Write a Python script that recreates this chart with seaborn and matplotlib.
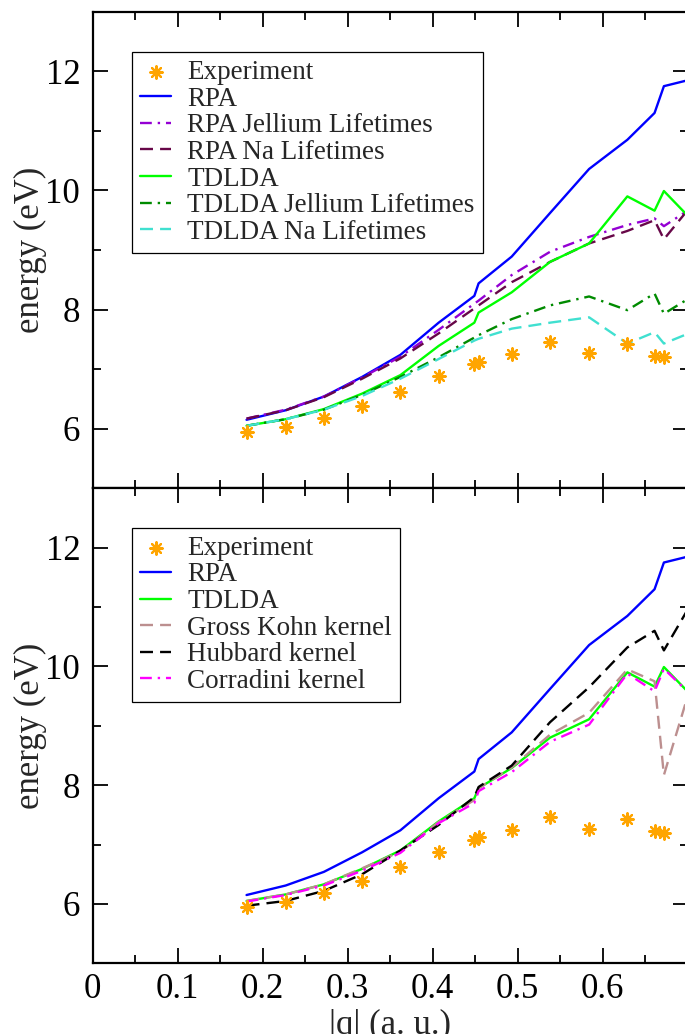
import matplotlib
matplotlib.use("Agg")
import matplotlib.pyplot as plt
from matplotlib.ticker import MultipleLocator
import seaborn as sns

# momentum transfer |q| (a.u.) of the computed spectra
q_model = [0.181, 0.227, 0.272, 0.317, 0.362, 0.407, 0.449, 0.454, 0.493,
           0.538, 0.584, 0.629, 0.661, 0.672, 0.720]
# measured plasmon energies (eV)
q_exp = [0.181, 0.227, 0.272, 0.317, 0.362, 0.407, 0.449, 0.454, 0.493,
         0.538, 0.584, 0.629, 0.661, 0.672]
e_exp = [5.94, 6.03, 6.18, 6.38, 6.62, 6.88, 7.08, 7.12, 7.25,
         7.46, 7.27, 7.43, 7.22, 7.20]

e_rpa = [6.15, 6.31, 6.54, 6.87, 7.24, 7.78, 8.23, 8.44, 8.89,
         9.62, 10.36, 10.85, 11.30, 11.75, 11.92]
e_rpa_jellium = [6.17, 6.32, 6.54, 6.86, 7.21, 7.66, 8.10, 8.15, 8.58,
                 8.97, 9.22, 9.42, 9.53, 9.40, 9.85]
e_rpa_na = [6.17, 6.31, 6.53, 6.84, 7.18, 7.60, 8.02, 8.07, 8.46,
            8.80, 9.11, 9.32, 9.50, 9.18, 10.02]
e_tdlda = [6.05, 6.16, 6.33, 6.59, 6.90, 7.39, 7.78, 7.95, 8.29,
           8.80, 9.11, 9.90, 9.66, 9.99, 9.28]
e_tdlda_jellium = [6.05, 6.16, 6.32, 6.57, 6.87, 7.20, 7.53, 7.57, 7.84,
                   8.07, 8.22, 7.99, 8.27, 7.93, 8.35]
e_tdlda_na = [6.05, 6.16, 6.32, 6.55, 6.84, 7.17, 7.48, 7.51, 7.68,
              7.78, 7.87, 7.43, 7.62, 7.43, 7.71]
e_gross_kohn = [6.05, 6.16, 6.33, 6.60, 6.88, 7.38, 7.75, 7.95, 8.30,
                8.85, 9.22, 9.95, 9.75, 8.17, 10.45]
e_hubbard = [5.97, 6.05, 6.22, 6.50, 6.90, 7.33, 7.80, 7.97, 8.33,
             9.06, 9.65, 10.32, 10.60, 10.27, 11.45]
e_corradini = [6.04, 6.15, 6.31, 6.56, 6.86, 7.36, 7.70, 7.90, 8.22,
               8.73, 9.02, 9.88, 9.58, 9.96, 9.30]

x_ticks = [0, 0.1, 0.2, 0.3, 0.4, 0.5, 0.6]
x_tick_labels = ["0", "0.1", "0.2", "0.3", "0.4", "0.5", "0.6"]
y_ticks = [6, 8, 10, 12]

sns.set_theme(style="ticks")
plt.rcParams["font.family"] = ["Liberation Serif", "DejaVu Serif"]

DASH = (0, (5.5, 3.0))
DASHDOT = (0, (5.0, 2.5, 1.0, 2.5))
LW = 1.7

W, H = 685, 1034
fig = plt.figure(figsize=(W / 100, H / 100), dpi=100)
left, right = 92.7, 687.7
ax_top = fig.add_axes([left / W, 1 - 488.3 / H, (right - left) / W, (488.3 - 11.7) / H])
ax_bot = fig.add_axes([left / W, 1 - 963.3 / H, (right - left) / W, (963.3 - 488.3) / H])


def experiment(ax):
    sns.scatterplot(x=q_exp, y=e_exp, ax=ax, marker=(8, 2, 0), s=80,
                    color="#FFA500", edgecolor="#FFA500", linewidth=1.6,
                    label="Experiment", zorder=10)


def curve(ax, values, color, style, label):
    sns.lineplot(x=q_model, y=values, ax=ax, color=color, linestyle=style,
                 linewidth=LW, label=label, sort=False, estimator=None)


# upper panel: lifetime corrections
experiment(ax_top)
curve(ax_top, e_rpa, "#0000FF", "-", "RPA")
curve(ax_top, e_rpa_jellium, "#9400D3", DASHDOT, "RPA Jellium Lifetimes")
curve(ax_top, e_rpa_na, "#670748", DASH, "RPA Na Lifetimes")
curve(ax_top, e_tdlda, "#00FF00", "-", "TDLDA")
curve(ax_top, e_tdlda_jellium, "#008B00", DASHDOT, "TDLDA Jellium Lifetimes")
curve(ax_top, e_tdlda_na, "#40E0D0", DASH, "TDLDA Na Lifetimes")

# lower panel: exchange-correlation kernels
experiment(ax_bot)
curve(ax_bot, e_rpa, "#0000FF", "-", "RPA")
curve(ax_bot, e_tdlda, "#00FF00", "-", "TDLDA")
curve(ax_bot, e_gross_kohn, "#BC8F8F", DASH, "Gross Kohn kernel")
curve(ax_bot, e_hubbard, "#000000", DASH, "Hubbard kernel")
curve(ax_bot, e_corradini, "#FF00FF", DASHDOT, "Corradini kernel")

for ax, anchor in ((ax_top, (0.066, 0.9155)), (ax_bot, (0.066, 0.917))):
    ax.set_xlim(0, 0.7)
    ax.set_ylim(5, 13)
    ax.set_yticks(y_ticks)
    ax.yaxis.set_minor_locator(MultipleLocator(1))
    ax.xaxis.set_minor_locator(MultipleLocator(0.05))
    ax.set_xticks(x_ticks)
    ax.tick_params(which="both", direction="in", top=True, right=True,
                   width=1.3, colors="black", labelsize=25)
    ax.tick_params(which="major", length=11, pad=9)
    ax.tick_params(which="minor", length=6)
    for sp in ax.spines.values():
        sp.set_linewidth(1.6)
        sp.set_color("black")
    ax.set_ylabel("energy (eV)", fontsize=25, labelpad=-1)
    leg = ax.legend(loc="upper left", bbox_to_anchor=anchor, borderaxespad=0,
                    fontsize=19.5, handlelength=1.15, handletextpad=0.6,
                    borderpad=0.3, labelspacing=0.06, fancybox=False,
                    framealpha=1, edgecolor="black", scatterpoints=1)
    leg.get_frame().set_linewidth(0.9)

ax_top.set_xticklabels([])
ax_top.set_xlabel("")
ax_bot.set_xticklabels(x_tick_labels)
ax_bot.tick_params(axis="x", which="major", pad=7)
ax_bot.set_xlabel("|q| (a. u.)", fontsize=25, labelpad=2)

fig.savefig("out.png", dpi=100)
